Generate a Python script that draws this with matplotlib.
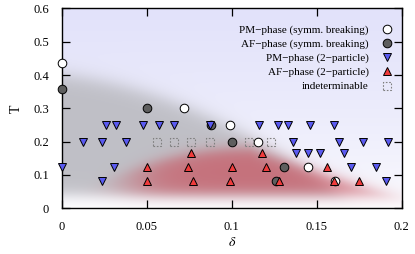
import numpy as np
import matplotlib
matplotlib.use("Agg")
import matplotlib.pyplot as plt

plt.rcParams['font.family'] = ['Liberation Serif', 'DejaVu Serif']
plt.rcParams['mathtext.fontset'] = 'stix'

# ---- data ----
pm_sb_x = [0.0, 0.072, 0.099, 0.1157, 0.1447, 0.161]
pm_sb_y = [0.435, 0.30, 0.25, 0.2, 0.125, 0.083]

af_sb_x = [0.0, 0.05, 0.088, 0.1, 0.131, 0.126]
af_sb_y = [0.358, 0.30, 0.25, 0.2, 0.125, 0.083]

pm_2p_x = [0.026, 0.032, 0.048, 0.057, 0.066, 0.087, 0.116, 0.127, 0.133, 0.146, 0.160,
           0.0127, 0.0235, 0.038, 0.136, 0.163, 0.177, 0.192,
           0.138, 0.145, 0.152, 0.166,
           0.0, 0.031, 0.170, 0.185,
           0.0235, 0.191]
pm_2p_y = [0.25] * 11 + [0.2] * 7 + [0.167] * 4 + [0.125] * 4 + [0.083] * 2

af_2p_x = [0.076, 0.118,
           0.05, 0.074, 0.1, 0.12, 0.156,
           0.05, 0.077, 0.099, 0.128, 0.16, 0.175]
af_2p_y = [0.167] * 2 + [0.125] * 5 + [0.083] * 6

ind_x = [0.056, 0.066, 0.076, 0.087, 0.110, 0.123]
ind_y = [0.2] * 6

labels = ["PM\u2212phase (symm. breaking)", "AF\u2212phase (symm. breaking)",
          "PM\u2212phase (2\u2212particle)", "AF\u2212phase (2\u2212particle)",
          "indeterminable"]

xticks = [0, 0.05, 0.1, 0.15, 0.2]
xticklabels = ["0", "0.05", "0.1", "0.15", "0.2"]
yticks = [0, 0.1, 0.2, 0.3, 0.4, 0.5, 0.6]
yticklabels = ["0", "0.1", "0.2", "0.3", "0.4", "0.5", "0.6"]

# ---- figure ----
fig = plt.figure(figsize=(4.15, 2.54), dpi=100)
ax = fig.add_axes([0.1487, 0.18, 0.8193, 0.787])
ax.set_xlim(0, 0.2)
ax.set_ylim(0, 0.6)

# background shading (phase regions)
nx, ny = 400, 600
d = np.linspace(0, 0.2, nx)
t = np.linspace(0, 0.6, ny)
D, Tm = np.meshgrid(d, t)
sig = lambda z: 1.0 / (1.0 + np.exp(-z))
white = np.array([1.0, 1.0, 1.0])
lav = np.array([226, 226, 250]) / 255.0
a = np.clip(Tm / 0.6, 0, 1) ** 0.6
img = white * (1 - a[..., None]) + lav * a[..., None]
bottom = sig((Tm - 0.04) / 0.012)
# gray region
Tg = 0.40 - 0.6 * D - 10 * D ** 2
ga = sig((Tg - Tm) / 0.016) * bottom * 0.9
gray = np.array([186, 186, 192]) / 255.0
img = img * (1 - ga[..., None]) + gray * ga[..., None]
# red region
Tr = np.where(D < 0.11, 0.178 - 13.3 * (D - 0.11) ** 2, 0.178 - 1.75 * (D - 0.11))
ra = sig((Tr - Tm) / 0.012) * sig((D - 0.04) / 0.01) * bottom * 0.7
red = np.array([200, 80, 92]) / 255.0
img = img * (1 - ra[..., None]) + red * ra[..., None]
ax.imshow(img, extent=[0, 0.2, 0, 0.6], origin='lower', aspect='auto',
          interpolation='bilinear', zorder=0)

ms = 6.2
ax.plot(pm_sb_x, pm_sb_y, 'o', ms=ms, mfc='white', mec='black', mew=0.7,
        zorder=3, clip_on=False, label=labels[0])
ax.plot(af_sb_x, af_sb_y, 'o', ms=ms, mfc='#5e5e5e', mec='black', mew=0.7,
        zorder=3, clip_on=False, label=labels[1])
ax.plot(pm_2p_x, pm_2p_y, 'v', ms=ms, mfc='#5a5af0', mec='black', mew=0.7,
        zorder=4, clip_on=False, label=labels[2])
ax.plot(af_2p_x, af_2p_y, '^', ms=ms, mfc='#f03c3c', mec='black', mew=0.7,
        zorder=4, clip_on=False, label=labels[3])
ax.scatter(ind_x, ind_y, marker='s', s=34, facecolors='none', edgecolors='#808080',
           linewidths=0.8, linestyles=(0, (1.5, 1.5)), zorder=3, label=labels[4])

leg = ax.legend(loc='upper right', frameon=False, markerfirst=False, fontsize=8,
                handlelength=1.0, handletextpad=1.1, labelspacing=0.36,
                borderaxespad=0.0, bbox_to_anchor=(0.985, 0.94))
for txt in leg.get_texts():
    txt.set_ha('right')

ax.set_xticks(xticks)
ax.set_xticklabels(xticklabels)
ax.set_yticks(yticks)
ax.set_yticklabels(yticklabels)
ax.tick_params(direction='in', length=6, width=0.9, top=True, right=True,
               labelsize=9, pad=9)
for s in ax.spines.values():
    s.set_linewidth(1.0)

ax.set_xlabel(r'$\delta$', fontsize=10, labelpad=2)
ax.set_ylabel('T', fontsize=10, labelpad=8)

fig.savefig('out.png', dpi=100)
